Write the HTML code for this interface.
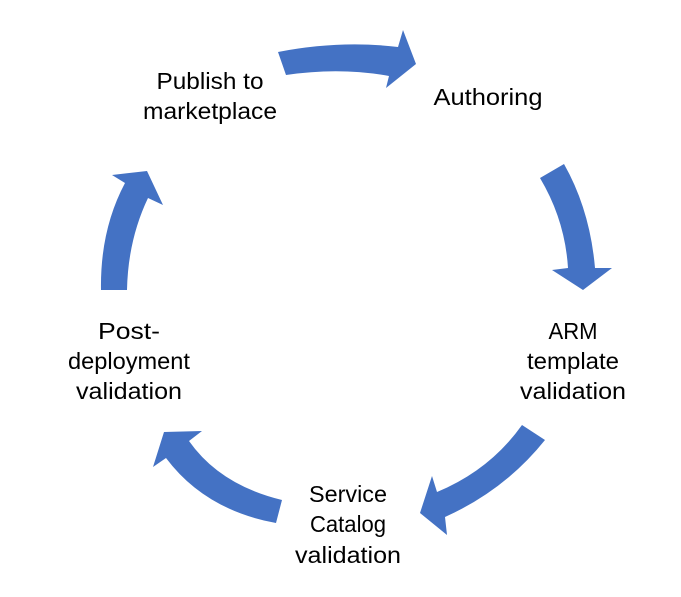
<!DOCTYPE html>
<html><head><style>html,body{margin:0;padding:0;background:#fff}</style></head>
<body>
<svg width="681" height="592" xmlns="http://www.w3.org/2000/svg">
<g fill="#4472C4">
<path d="M278,52 Q340,40 398,47 L403,30 L416,64 L386,88 L389,76 Q340,67 286,75 Z"/>
<path d="M540,178 Q565,220 568,268 L552,270 L583,290 L612,268 L595,268 Q590,210 564,164 Z"/>
<path d="M522,425 Q490,470 437,492 L432,476 L420,513 L447,535 L445,517 Q505,490 545,440 Z"/>
<path d="M282,500 Q220,485 189,441 L202,431 L164,432 L153,467 L166,458 Q205,510 276,523 Z"/>
<path d="M101,290 Q100,230 125,183 L112,175 L147,171 L163,205 L148,198 Q128,240 127,290 Z"/>
</g>
<g font-family="Liberation Sans, sans-serif" font-size="23" fill="#000" text-anchor="middle" lengthAdjust="spacingAndGlyphs">
<text x="210" y="89" textLength="107" lengthAdjust="spacingAndGlyphs">Publish to</text>
<text x="210" y="119" textLength="134" lengthAdjust="spacingAndGlyphs">marketplace</text>
<text x="488" y="105" textLength="109" lengthAdjust="spacingAndGlyphs">Authoring</text>
<text x="573" y="339" textLength="49" lengthAdjust="spacingAndGlyphs">ARM</text>
<text x="573" y="369" textLength="92" lengthAdjust="spacingAndGlyphs">template</text>
<text x="573" y="399" textLength="106" lengthAdjust="spacingAndGlyphs">validation</text>
<text x="348" y="502" textLength="78" lengthAdjust="spacingAndGlyphs">Service</text>
<text x="348" y="532" textLength="76" lengthAdjust="spacingAndGlyphs">Catalog</text>
<text x="348" y="563" textLength="106" lengthAdjust="spacingAndGlyphs">validation</text>
<text x="129" y="339" textLength="62" lengthAdjust="spacingAndGlyphs">Post-</text>
<text x="129" y="369" textLength="122" lengthAdjust="spacingAndGlyphs">deployment</text>
<text x="129" y="399" textLength="106" lengthAdjust="spacingAndGlyphs">validation</text>
</g>
</svg>
</body></html>
